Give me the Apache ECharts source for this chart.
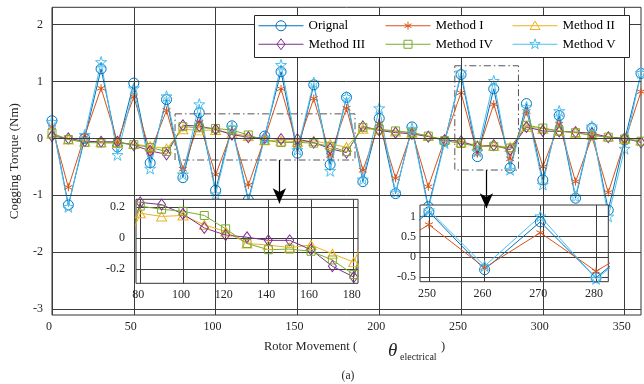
<!DOCTYPE html>
<html><head><meta charset="utf-8">
<script src="https://cdn.jsdelivr.net/npm/echarts@6/dist/echarts.min.js"></script>
<style>html,body{margin:0;padding:0;background:#fff}#c{width:644px;height:384px}</style>
</head><body><div id="c"></div>
<script>
// ---------------- data ----------------
const angles = [0,10,20,30,40,50,60,70,80,90,100,110,120,130,140,150,160,170,180,190,200,210,220,230,240,250,260,270,280,290,300,310,320,330,340,350,360];
const original = [0.31,-1.17,0.00,1.22,-0.15,0.97,-0.43,0.68,-0.69,0.45,-0.91,0.22,-1.08,0.04,1.17,-0.26,0.94,-0.46,0.72,-0.76,0.35,-0.97,0.20,-1.20,-0.05,1.12,-0.32,0.87,-0.52,0.61,-0.73,0.40,-1.05,0.18,-1.26,-0.03,1.14];
const method1 = [0.20,-0.86,0.05,0.88,-0.06,0.73,-0.24,0.49,-0.54,0.28,-0.64,0.13,-0.82,0.00,0.87,-0.13,0.70,-0.30,0.53,-0.56,0.26,-0.70,0.12,-0.85,-0.02,0.80,-0.27,0.60,-0.36,0.47,-0.50,0.25,-0.76,0.03,-0.95,-0.06,0.82];
const method2 = [0.08,-0.02,-0.06,-0.07,-0.08,-0.10,-0.14,-0.18,0.16,0.14,0.146,0.086,0.043,-0.034,-0.044,-0.06,-0.044,-0.10,-0.154,0.17,0.15,0.12,0.10,0.04,-0.02,-0.07,-0.12,-0.13,-0.15,0.20,0.17,0.13,0.10,0.06,0.03,-0.01,-0.04];
const method3 = [0.04,0.00,-0.05,-0.06,-0.06,-0.12,-0.22,-0.28,0.23,0.216,0.156,0.066,0.02,0.006,-0.014,-0.014,-0.074,-0.18,-0.25,0.21,0.14,0.10,0.08,0.03,-0.03,-0.05,-0.15,-0.12,-0.20,0.20,0.13,0.12,0.11,0.09,0.02,0.00,-0.07];
const method4 = [0.09,-0.02,-0.07,-0.08,-0.08,-0.11,-0.16,-0.23,0.206,0.186,0.173,0.146,0.06,-0.034,-0.074,-0.07,-0.084,-0.14,-0.234,0.19,0.16,0.13,0.10,0.04,-0.04,-0.09,-0.14,-0.14,-0.17,0.23,0.18,0.13,0.10,0.05,0.02,-0.01,-0.05];
const method5 = [0.29,-1.20,0.06,1.34,-0.29,0.88,-0.53,0.74,-0.63,0.60,-0.98,0.19,-1.12,0.01,1.29,-0.20,0.98,-0.57,0.73,-0.72,0.53,-0.95,0.17,-1.24,-0.08,1.16,-0.23,1.01,-0.55,0.55,-0.81,0.48,-1.02,0.21,-1.37,-0.18,1.15];

const seriesNames = ['Orignal','Method I','Method II','Method III','Method IV','Method V'];
const seriesValues = [original, method1, method2, method3, method4, method5];

const mainXTicks = [0,50,100,150,200,250,300,350];
const mainYTicks = [-3,-2,-1,0,1,2];
const zoomAXTicks = [80,100,120,140,160,180];
const zoomAYTicks = [-0.2,0,0.2];
const zoomBXTicks = [250,260,270,280];
const zoomBYTicks = [-0.5,0,0.5,1];
const zoomASeries = ['Method II','Method III','Method IV'];
const zoomBSeries = ['Orignal','Method I','Method V'];

// ---------------- styles ----------------
const colors = ['#0072BD','#D95319','#EDB120','#7E2F8E','#77AC30','#4DBEEE'];
const symbols = [
  'path://M10,0A10,10,0,1,1,-10,0A10,10,0,1,1,10,0Z',
  'path://M0,-10L0,10M-8.66,-5L8.66,5M-8.66,5L8.66,-5',
  'path://M0,-10L8.66,5L-8.66,5Z',
  'path://M0,-10L6.5,0L0,10L-6.5,0Z',
  'path://M-5,-5L5,-5L5,5L-5,5Z',
  'path://M0,-10L2.245,-3.09L9.511,-3.09L3.633,1.18L5.878,8.09L0,3.82L-5.878,8.09L-3.633,1.18L-9.511,-3.09L-2.245,-3.09Z'
];
const symbolSizes = [[10,10],[8,8],[10,9],[8,11],[8,8],[11,11]];
// legend icons: a 45 x 12.5 box holding the line and the marker
const legendMarks = [
  'M27.5,6.25A5,5,0,1,1,17.5,6.25A5,5,0,1,1,27.5,6.25Z',
  'M22.5,2.25L22.5,10.25M19.04,4.25L25.96,8.25M19.04,8.25L25.96,4.25',
  'M22.5,1.5L27.5,10L17.5,10Z',
  'M22.5,0.75L26.5,6.25L22.5,11.75L18.5,6.25Z',
  'M18.5,2.25L26.5,2.25L26.5,10.25L18.5,10.25Z',
  'M22.5,0.75L23.735,4.55L27.73,4.55L24.5,6.9L25.73,10.7L22.5,8.35L19.27,10.7L20.5,6.9L17.27,4.55L21.265,4.55Z'
];
const FONT = 'Liberation Serif, Times New Roman, serif';
const TXT = '#262626';
const GRIDC = '#3c3c3c';

function tickLabel(ticks) {
  return function (v) {
    for (const t of ticks) if (Math.abs(t - v) < 1e-7) return String(t);
    return '';
  };
}
function pts(vals) { return angles.map((a, i) => [a, vals[i]]); }

function dataSeries(idx, axisIdx, z) {
  return {
    name: seriesNames[idx], type: 'line', xAxisIndex: axisIdx, yAxisIndex: axisIdx,
    data: pts(seriesValues[idx]), z: z,
    symbol: symbols[idx], symbolSize: symbolSizes[idx], symbolKeepAspect: false,
    showAllSymbol: true, clip: true,
    lineStyle: { color: colors[idx], width: 1 },
    itemStyle: { color: 'rgba(0,0,0,0)', borderColor: colors[idx], borderWidth: 1 },
    emphasis: { disabled: true }, silent: true
  };
}
function gridLines(axisIdx, xt, yt, z) {
  return {
    type: 'line', xAxisIndex: axisIdx, yAxisIndex: axisIdx, data: [], z: z, silent: true,
    markLine: {
      silent: true, symbol: 'none', label: { show: false }, animation: false,
      lineStyle: { color: GRIDC, width: 1, type: 'solid' },
      emphasis: { disabled: true },
      data: yt.map(v => ({ yAxis: v })).concat(xt.map(v => ({ xAxis: v })))
    }
  };
}
function valAxis(gridIndex, min, max, interval, ticks, extra) {
  return Object.assign({
    type: 'value', gridIndex, min, max, interval,
    axisLine: { show: false }, axisTick: { show: false }, splitLine: { show: false },
    axisLabel: { formatter: tickLabel(ticks), fontFamily: FONT, fontSize: 12, color: TXT }
  }, extra || {});
}

const series = [];
series.push(gridLines(0, mainXTicks, mainYTicks, 1));
for (let i = 0; i < 6; i++) series.push(dataSeries(i, 0, 2));
// dash-dot zoom boxes and arrows (annotations)
series.push({
  type: 'line', xAxisIndex: 0, yAxisIndex: 0, data: [], z: 3, silent: true,
  markArea: {
    silent: true, label: { show: false },
    itemStyle: { color: 'rgba(0,0,0,0)', borderColor: '#555', borderWidth: 1, borderType: [7, 3, 1.5, 3] },
    data: [
      [{ coord: [75.2, 0.43] }, { coord: [185.2, -0.38] }],
      [{ coord: [246.2, 1.274] }, { coord: [285.1, -0.556] }]
    ]
  }
});
series.push(gridLines(1, zoomAXTicks, zoomAYTicks, 6));
zoomASeries.forEach(n => series.push(dataSeries(seriesNames.indexOf(n), 1, 7)));
series.push(gridLines(2, zoomBXTicks, zoomBYTicks, 6));
zoomBSeries.forEach(n => series.push(dataSeries(seriesNames.indexOf(n), 2, 7)));
series.push({
  type: 'line', xAxisIndex: 0, yAxisIndex: 0, data: [], z: 9, silent: true,
  markLine: {
    silent: true, symbol: ['none', 'arrow'], symbolSize: [10, 15], label: { show: false }, animation: false,
    lineStyle: { color: '#000', width: 1.2, type: 'solid' },
    data: [
      [{ coord: [139, -0.38] }, { coord: [139, -1.14] }],
      [{ coord: [265.5, -0.556] }, { coord: [265.5, -1.225] }]
    ]
  }
});

function legendItem(i) {
  return {
    name: seriesNames[i],
    icon: 'path://M0,0M0,6.25L45,6.25' + legendMarks[i] + 'M45,12.5',
    itemStyle: { color: 'rgba(0,0,0,0)', borderColor: colors[i], borderWidth: 1 }
  };
}
const legendBase = {
  orient: 'vertical', top: 19, itemWidth: 45, itemHeight: 12.5, itemGap: 5, padding: 0, z: 10,
  selectedMode: false, symbolKeepAspect: false,
  textStyle: { fontFamily: FONT, fontSize: 13, color: '#000', padding: [0, 0, 0, 0] }
};

const option = {
  animation: false,
  backgroundColor: '#fff',
  grid: [
    { left: 49.3, top: 7.3, width: 592.2, height: 307.7, show: true, backgroundColor: '#fff', borderColor: '#333', borderWidth: 1, z: 0 },
    { left: 136, top: 199.3, width: 222, height: 84, show: true, backgroundColor: '#fff', borderColor: '#333', borderWidth: 1, z: 5 },
    { left: 420, top: 205, width: 188.3, height: 76.7, show: true, backgroundColor: '#fff', borderColor: '#333', borderWidth: 1, z: 5 }
  ],
  xAxis: [
    valAxis(0, 0, 360, 10, mainXTicks, { axisLabel: { formatter: tickLabel(mainXTicks), fontFamily: FONT, fontSize: 12, color: TXT, margin: 6, padding: [0, 6, 0, 0] } }),
    valAxis(1, 78, 182, 2, zoomAXTicks, { z: 6, axisLabel: { formatter: tickLabel(zoomAXTicks), fontFamily: FONT, fontSize: 12, color: TXT, margin: 6, padding: [0, 4, 0, 0] } }),
    valAxis(2, 248.4, 282.2, 0.2, zoomBXTicks, { z: 6, axisLabel: { formatter: tickLabel(zoomBXTicks), fontFamily: FONT, fontSize: 12, color: TXT, margin: 6, padding: [0, 4, 0, 0] } })
  ],
  yAxis: [
    valAxis(0, -3.1, 2.3, 0.1, mainYTicks, {
      name: 'Cogging Torque (Nm)', nameLocation: 'middle', nameGap: 31, nameRotate: 90,
      nameTextStyle: { fontFamily: FONT, fontSize: 13, color: TXT },
      axisLabel: { formatter: tickLabel(mainYTicks), fontFamily: FONT, fontSize: 12, color: TXT, margin: 9, padding: [0, 0, 6, 0] }
    }),
    valAxis(1, -0.29, 0.25, 0.01, zoomAYTicks, { z: 6, axisLabel: { formatter: tickLabel(zoomAYTicks), fontFamily: FONT, fontSize: 12, color: TXT, margin: 11, padding: [0, 0, 8, 0] } }),
    valAxis(2, -0.62, 1.29, 0.01, zoomBYTicks, { z: 6, axisLabel: { formatter: tickLabel(zoomBYTicks), fontFamily: FONT, fontSize: 12, color: TXT, margin: 4, padding: [0, 0, 7, 0] } })
  ],
  legend: [
    Object.assign({}, legendBase, { left: 258, data: [legendItem(0), legendItem(3)] }),
    Object.assign({}, legendBase, { left: 385, data: [legendItem(1), legendItem(4)] }),
    Object.assign({}, legendBase, { left: 512, data: [legendItem(2), legendItem(5)] })
  ],
  graphic: [
    { type: 'rect', z: 8, shape: { x: 254.5, y: 15.5, width: 375, height: 42 }, style: { fill: '#fff', stroke: '#262626', lineWidth: 1 }, silent: true },
    { type: 'text', z: 10, style: { text: 'Rotor Movement (', x: 264, y: 347, font: '12.5px ' + FONT, fill: TXT, verticalAlign: 'middle' } },
    { type: 'text', z: 10, style: { text: 'θ', x: 388, y: 351, font: 'italic 19px ' + FONT, fill: TXT, verticalAlign: 'middle' } },
    { type: 'text', z: 10, style: { text: 'electrical', x: 400, y: 357, font: '10px ' + FONT, fill: TXT, verticalAlign: 'middle' } },
    { type: 'text', z: 10, style: { text: ')', x: 441, y: 347, font: '12.5px ' + FONT, fill: TXT, verticalAlign: 'middle' } },
    { type: 'text', z: 10, style: { text: '(a)', x: 348, y: 376, font: '11.5px ' + FONT, fill: TXT, align: 'center', verticalAlign: 'middle' } }
  ],
  series: series
};

const chart = echarts.init(document.getElementById('c'), null, { renderer: 'canvas' });
chart.setOption(option);
</script>
</body></html>
